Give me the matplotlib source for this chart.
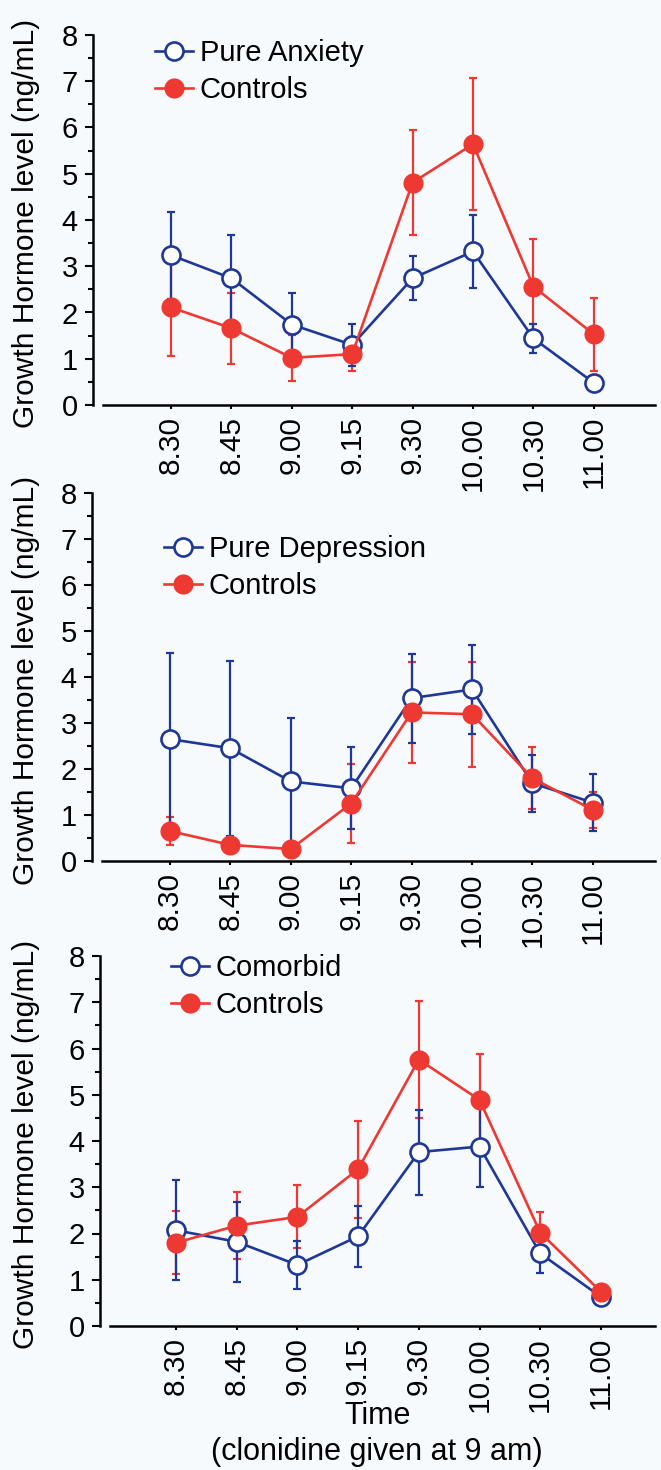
import numpy as np
import matplotlib
matplotlib.use("Agg")
import matplotlib.pyplot as plt
from matplotlib.ticker import MultipleLocator

plt.rcParams['font.family'] = ['Liberation Sans', 'DejaVu Sans']

times = ['8.30', '8.45', '9.00', '9.15', '9.30', '10.00', '10.30', '11.00']

# panel 1: pure anxiety vs controls
anx_mean = [3.24, 2.74, 1.74, 1.30, 2.74, 3.32, 1.44, 0.48]
anx_err = [0.94, 0.93, 0.69, 0.45, 0.48, 0.78, 0.31, 0.08]
ctl1_mean = [2.11, 1.66, 1.02, 1.10, 4.81, 5.64, 2.56, 1.53]
ctl1_err = [1.05, 0.77, 0.50, 0.36, 1.14, 1.42, 1.03, 0.79]

# panel 2: pure depression vs controls
dep_mean = [2.65, 2.45, 1.73, 1.58, 3.54, 3.73, 1.69, 1.27]
dep_err = [1.87, 1.90, 1.37, 0.89, 0.97, 0.96, 0.62, 0.62]
ctl2_mean = [0.65, 0.35, 0.26, 1.25, 3.23, 3.19, 1.80, 1.11]
ctl2_err = [0.31, 0.05, 0.05, 0.86, 1.10, 1.14, 0.67, 0.40]

# panel 3: comorbid vs controls
com_mean = [2.07, 1.82, 1.32, 1.94, 3.76, 3.88, 1.57, 0.63]
com_err = [1.08, 0.86, 0.52, 0.66, 0.92, 0.88, 0.42, 0.06]
ctl3_mean = [1.80, 2.17, 2.36, 3.39, 5.76, 4.89, 2.02, 0.74]
ctl3_err = [0.68, 0.73, 0.68, 1.05, 1.27, 1.00, 0.44, 0.05]

BLUE = '#1f3896'
RED = '#ee3832'
BG = '#f7fafd'

W, H = 661, 1470
fig = plt.figure(figsize=(W / 100, H / 100), dpi=100, facecolor=BG)


def draw_panel(left_px, top_px, bot_px, x0_px, step_px, g_mean, g_err, g_name,
               c_mean, c_err, leg_x, leg_y):
    ax = fig.add_axes([left_px / W, 1 - bot_px / H, (W - left_px) / W,
                       (bot_px - top_px) / H])
    ax.set_facecolor(BG)
    x = np.arange(len(times))
    xmin = (left_px - x0_px) / step_px
    xmax = (W - x0_px) / step_px

    ekw = dict(elinewidth=1.6, capsize=2.6, capthick=1.6)
    ax.errorbar(x, c_mean, yerr=c_err, fmt='none', ecolor=RED, zorder=2, **ekw)
    ax.errorbar(x, g_mean, yerr=g_err, fmt='none', ecolor=BLUE, zorder=3, **ekw)
    ax.plot(x, g_mean, '-o', color=BLUE, lw=1.9, ms=13, mew=1.9,
            mfc='white', mec=BLUE, zorder=4, label=g_name)
    ax.plot(x, c_mean, '-o', color=RED, lw=1.9, ms=14.5, mew=0,
            mfc=RED, zorder=5, label='Controls')

    ax.set_xlim(xmin, xmax)
    ax.set_ylim(0, 8)
    ax.set_xticks(x)
    ax.set_xticklabels(times, rotation=90, fontsize=21.5)
    ax.yaxis.set_major_locator(MultipleLocator(1))
    ax.yaxis.set_minor_locator(MultipleLocator(0.5))
    ax.tick_params(axis='y', which='major', length=6, width=1.5, pad=5, labelsize=21)
    ax.tick_params(axis='y', which='minor', length=3.5, width=1.5)
    ax.tick_params(axis='x', length=3, width=1.5, pad=5)
    for s in ['top', 'right']:
        ax.spines[s].set_visible(False)
    ax.spines['left'].set_linewidth(1.8)
    ax.spines['bottom'].set_linewidth(1.8)
    ax.spines['bottom'].set_bounds(xmin + 10 / step_px, xmax - 6 / step_px)

    ax.set_ylabel('Growth Hormone level (ng/mL)', fontsize=21.5)
    ax.yaxis.set_label_coords((40 - left_px) / (W - left_px), 0.49)

    ax.legend(loc='upper left', bbox_to_anchor=(leg_x / W, 1 - leg_y / H),
              bbox_transform=fig.transFigure, frameon=False, fontsize=21,
              borderpad=0, borderaxespad=0, handlelength=1.3,
              handletextpad=0.24, labelspacing=0.3)
    return ax


draw_panel(93, 35, 405, 171, 60.4, anx_mean, anx_err, 'Pure Anxiety',
           ctl1_mean, ctl1_err, 155, 39)
draw_panel(92, 493, 861, 170, 60.4, dep_mean, dep_err, 'Pure Depression',
           ctl2_mean, ctl2_err, 164, 535)
ax3 = draw_panel(100, 956, 1326, 176, 60.7, com_mean, com_err, 'Comorbid',
                 ctl3_mean, ctl3_err, 171, 954)

cx = (100 + W) / 2 / W
fig.text(cx - 0.005, 1 - 1416 / H, 'Time', ha='center', va='center', fontsize=22)
fig.text(cx - 0.005, 1 - 1452 / H, '(clonidine given at 9 am)', ha='center',
         va='center', fontsize=22)

fig.savefig('out.png', dpi=100, facecolor=BG)
